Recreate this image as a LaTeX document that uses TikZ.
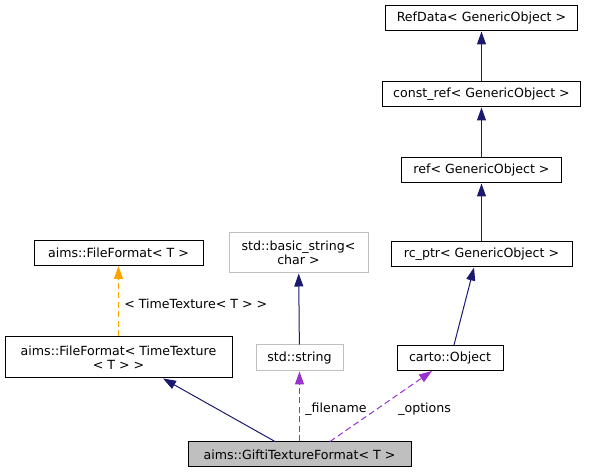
\documentclass[tikz,border=0pt]{standalone}
\usepackage{fontspec}
\setmainfont{DejaVu Sans}
\usetikzlibrary{arrows.meta}
\usepackage{xcolor}
\definecolor{edgeNavy}{RGB}{25, 25, 112}
\definecolor{edgeOrange}{RGB}{255, 165, 0}
\definecolor{edgeOrchid}{RGB}{154, 50, 205}
\definecolor{boxGrey}{RGB}{191, 191, 191}

\begin{document}
\begin{tikzpicture}
    [
		x=1pt, y=-1pt,
		font=\fontsize{12.6}{14}\selectfont,
		node distance=76pt,
		cls/.style={
			draw, rectangle, align=center, inner sep=0pt, minimum height=25pt, line width=1pt, fill=white
		},
		extcls/.style={
			cls, draw=boxGrey
		},
		selfcls/.style={
			cls, fill=boxGrey
		},
		inherit/.style={
			-{Triangle[length=13pt, width=9pt]}, draw=edgeNavy, line width=1pt
		},
		templ/.style={
			inherit, draw=edgeOrange, dash pattern=on 6pt off 3.5pt
		},
		member/.style={
			inherit, draw=edgeOrchid, dash pattern=on 6pt off 3.5pt
		}
	]
\useasboundingbox (0,0) rectangle (590,473);

% Nodes
\node (refdata) [cls, minimum width=192pt] at (481.5,18.5) {RefData< GenericObject >};
\node (cref) [cls, minimum width=198pt, below of=refdata] {const\_ref< GenericObject >};
\node (ref) [cls, minimum width=160pt, below of=cref] {ref< GenericObject >};
\node (rcptr) [cls, minimum width=181pt, below of=ref, node distance=84pt] {rc\_ptr< GenericObject >};
\node (carto) [cls, minimum width=106pt] at (450,358) {carto::Object};
\node (basicstr) [extcls, minimum width=139pt, minimum height=40pt] at (298.5,253) {std::basic\_string<\\char >};
\node (string) [extcls, minimum width=87pt, minimum height=26pt] at (299.5,358) {std::string};
\node (ff) [cls, minimum width=169pt] at (118.5,253) {aims::FileFormat< T >};
\node (ttff) [cls, minimum width=227pt, minimum height=41pt] at (118.5,357.5) {aims::FileFormat< TimeTexture\\< T > >};
\node (gifti) [selfcls, minimum width=223pt] at (299.5,454.5) {aims::GiftiTextureFormat< T >};

% Edges
\draw [inherit] (cref) -- (refdata);
\draw [inherit] (ref) -- (cref);
\draw [inherit] (rcptr) -- (ref);
\draw [inherit] ([xshift=4pt]carto.north) -- ([xshift=-7.5pt]rcptr.south);
\draw [inherit] (string) -- (basicstr);

\draw [templ] (ttff) -- node [pos=0.465, right=2pt]
	{< TimeTexture< T > >} (ff);

\draw [inherit] ([xshift=-24.5pt]gifti.north) -- ([xshift=44.5pt]ttff.south);

\draw [member] (gifti) -- node [pos=0.465, right=2pt]
	{\_filename} (string);

\draw [member] ([xshift=30.5pt]gifti.north) -- node [pos=0.465, right=17pt]
	{\_options} ([xshift=-18pt]carto.south);

\end{tikzpicture}
\end{document}
